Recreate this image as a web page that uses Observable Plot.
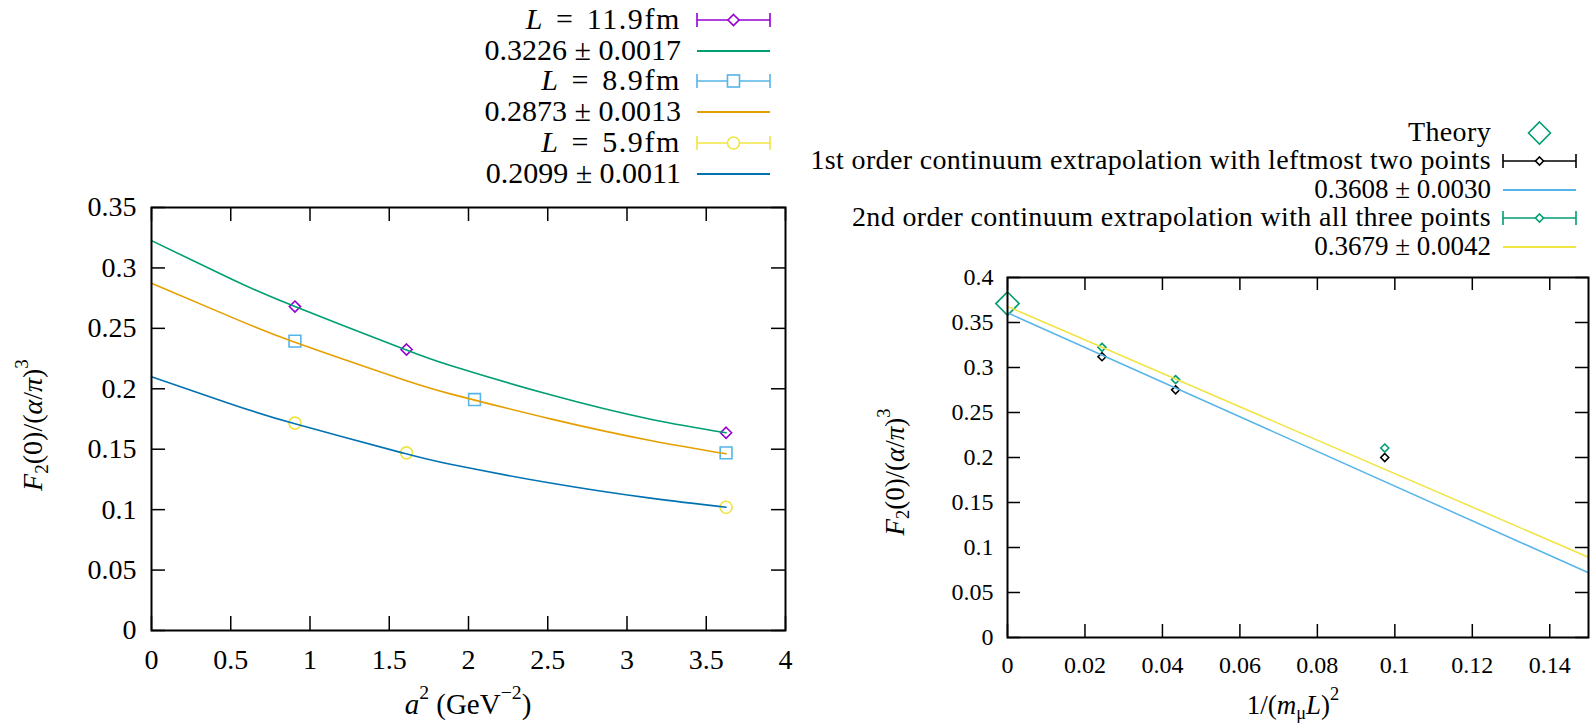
<!DOCTYPE html>
<html>
<head>
<meta charset="utf-8">
<script src="https://cdn.jsdelivr.net/npm/d3@7"></script>
<script src="https://cdn.jsdelivr.net/npm/@observablehq/plot@0.6"></script>
<style>
  html, body { margin: 0; padding: 0; background: #fff; }
  #wrap { position: relative; width: 1596px; height: 726px; overflow: hidden; font-family: "Liberation Serif", serif; color: #000; }
  #wrap svg { position: absolute; top: 0; }
  #wrap svg text { font-family: "Liberation Serif", serif; }
  .lab { position: absolute; white-space: nowrap; line-height: 1; font-family: "Liberation Serif", serif; }
  sup { font-size: 68%; vertical-align: 0.75em; line-height: 0; }
  sub { font-size: 68%; vertical-align: -0.3em; line-height: 0; }
</style>
</head>
<body>
<div id="wrap"></div>
<script>
// ---------- Left panel data ----------
const a2_L119 = [0.905, 1.609, 3.625];
const F2_L119 = [0.2680, 0.2325, 0.1636];
const a2_L89 = [0.905, 2.038, 3.625];
const F2_L89 = [0.2394, 0.1911, 0.1470];
const a2_L59 = [0.905, 1.609, 3.625];
const F2_L59 = [0.1716, 0.1470, 0.1020];
// fitted curves
const fitA2 = [0, 0.5, 0.905, 1.571, 1.886, 2.517, 3.148, 3.625];
const fitL119 = [0.3226, 0.2910, 0.2680, 0.2340, 0.2193, 0.1950, 0.1748, 0.1636];
const fitL89 = [0.2873, 0.2595, 0.2385, 0.2083, 0.1958, 0.1751, 0.1572, 0.1462];
const fitL59 = [0.2099, 0.1875, 0.1710, 0.1474, 0.1375, 0.1220, 0.1095, 0.1020];
const leftXTicks = [0, 0.5, 1, 1.5, 2, 2.5, 3, 3.5, 4];
const leftYTicks = [0, 0.05, 0.1, 0.15, 0.2, 0.25, 0.3, 0.35];
const leftLegend = ["L = 11.9fm", "0.3226 ± 0.0017", "L = 8.9fm", "0.2873 ± 0.0013", "L = 5.9fm", "0.2099 ± 0.0011"];

// ---------- Right panel data ----------
const xTheory = [0];
const yTheory = [0.371];
const xExtrap = [0.0244, 0.0434, 0.0974];
const y1st = [0.3120, 0.2752, 0.2000];
const y2nd = [0.3224, 0.2866, 0.2105];
const lineX = [0, 0.15];
const line1st = [0.3608, 0.0719];
const line2nd = [0.3679, 0.0892];
const rightXTicks = [0, 0.02, 0.04, 0.06, 0.08, 0.1, 0.12, 0.14];
const rightYTicks = [0, 0.05, 0.1, 0.15, 0.2, 0.25, 0.3, 0.35, 0.4];
const rightLegend = ["Theory", "1st order continuum extrapolation with leftmost two points", "0.3608 ± 0.0030", "2nd order continuum extrapolation with all three points", "0.3679 ± 0.0042"];

const C = {purple: "#9400d3", green: "#009e73", sky: "#56b4e9", orange: "#e69f00", yellow: "#f0e442", blue: "#0072b2"};
const FONT = '"Liberation Serif", serif';
const fmt = d => String(+d.toFixed(3));
const pts = (xs, ys) => xs.map((x, i) => ({x, y: ys[i]}));

function frameTicks(xt, yt, fw, fh, len, sw) {
  return [
    Plot.tickX(xt, {x: d => d, insetTop: fh - len, stroke: "black", strokeWidth: sw}),
    Plot.tickX(xt, {x: d => d, insetBottom: fh - len, stroke: "black", strokeWidth: sw}),
    Plot.tickY(yt, {y: d => d, insetRight: fw - len, stroke: "black", strokeWidth: sw}),
    Plot.tickY(yt, {y: d => d, insetLeft: fw - len, stroke: "black", strokeWidth: sw})
  ];
}

const wrap = document.getElementById("wrap");

// ---------- Left plot ----------
{
  const W = 798, H = 726, mL = 151, mR = 13, mT = 207, mB = 96;
  const fw = W - mL - mR, fh = H - mT - mB;
  const svg = Plot.plot({
    width: W, height: H, marginLeft: mL, marginRight: mR, marginTop: mT, marginBottom: mB,
    style: {fontFamily: FONT, fontSize: "28px", background: "transparent", overflow: "visible", color: "black"},
    x: {domain: [0, 4]},
    y: {domain: [0, 0.35]},
    marks: [
      ...frameTicks(leftXTicks, leftYTicks, fw, fh, 14, 1.5),
      Plot.axisX({ticks: leftXTicks, tickSize: 0, tickPadding: 19, tickFormat: fmt, label: null, fontSize: 28}),
      Plot.axisY({ticks: leftYTicks, tickSize: 0, tickPadding: 15, tickFormat: fmt, label: null, fontSize: 28}),
      Plot.dot(pts(a2_L119, F2_L119), {x: "x", y: "y", symbol: "diamond2", r: 5, stroke: C.purple, strokeWidth: 1.6}),
      Plot.line(pts(fitA2, fitL119), {x: "x", y: "y", stroke: C.green, strokeWidth: 1.6, curve: "natural"}),
      Plot.dot(pts(a2_L89, F2_L89), {x: "x", y: "y", symbol: "square2", r: 7.5, stroke: C.sky, strokeWidth: 1.6}),
      Plot.line(pts(fitA2, fitL89), {x: "x", y: "y", stroke: C.orange, strokeWidth: 1.6, curve: "natural"}),
      Plot.dot(pts(a2_L59, F2_L59), {x: "x", y: "y", symbol: "circle", r: 6, stroke: C.yellow, strokeWidth: 1.6}),
      Plot.line(pts(fitA2, fitL59), {x: "x", y: "y", stroke: C.blue, strokeWidth: 1.6, curve: "natural"}),
      Plot.frame({stroke: "black", strokeWidth: 2})
    ]
  });
  svg.style.left = "0px";
  wrap.appendChild(svg);
}

// ---------- Right plot ----------
{
  const W = 798, H = 726, mL = 209, mR = 8, mT = 277, mB = 89;
  const fw = W - mL - mR, fh = H - mT - mB;
  const svg = Plot.plot({
    width: W, height: H, marginLeft: mL, marginRight: mR, marginTop: mT, marginBottom: mB,
    style: {fontFamily: FONT, fontSize: "24px", background: "transparent", overflow: "visible", color: "black"},
    x: {domain: [0, 0.15]},
    y: {domain: [0, 0.4]},
    marks: [
      ...frameTicks(rightXTicks, rightYTicks, fw, fh, 13, 1.5),
      Plot.axisX({ticks: rightXTicks, tickSize: 0, tickPadding: 18, tickFormat: fmt, label: null, fontSize: 24}),
      Plot.axisY({ticks: rightYTicks, tickSize: 0, tickPadding: 14, tickFormat: fmt, label: null, fontSize: 24}),
      Plot.dot(pts(xTheory, yTheory), {x: "x", y: "y", symbol: "diamond2", r: 10.5, stroke: C.green, strokeWidth: 1.6}),
      Plot.dot(pts(xExtrap, y1st), {x: "x", y: "y", symbol: "diamond2", r: 3.6, stroke: "black", strokeWidth: 1.6}),
      Plot.line(pts(lineX, line1st), {x: "x", y: "y", stroke: C.sky, strokeWidth: 1.5}),
      Plot.dot(pts(xExtrap, y2nd), {x: "x", y: "y", symbol: "diamond2", r: 3.6, stroke: C.green, strokeWidth: 1.6}),
      Plot.line(pts(lineX, line2nd), {x: "x", y: "y", stroke: C.yellow, strokeWidth: 1.5}),
      Plot.frame({stroke: "black", strokeWidth: 2})
    ]
  });
  svg.style.left = "798px";
  wrap.appendChild(svg);
}

// ---------- Axis titles (HTML text) ----------
function label(html, cx, cy, size, rotate) {
  const d = document.createElement("div");
  d.className = "lab";
  d.style.fontSize = size + "px";
  d.style.left = cx + "px";
  d.style.top = cy + "px";
  d.style.transform = "translate(-50%,-50%)" + (rotate ? " rotate(-90deg)" : "");
  d.innerHTML = html;
  wrap.appendChild(d);
}
const yLab = "<i>F</i><sub>2</sub>(0)/(<i>α</i>/<i>π</i>)<sup>3</sup>";
label(yLab, 33, 425, 28, true);
label("<i>a</i><sup>2</sup> (GeV<sup>−2</sup>)", 468, 704, 29, false);
label(yLab, 895, 472, 27, true);
label("1/(<i>m</i><sub>μ</sub><i>L</i>)<sup>2</sup>", 1293, 705, 27, false);

// ---------- Legends ----------
function mathText(s) {
  return s.replace(/^L /, "<i>L</i> ");
}
function legendRow(text, textRight, cy, size, keyX, keyW, key, extra) {
  const d = document.createElement("div");
  d.className = "lab";
  d.style.fontSize = size + "px";
  d.style.right = (1596 - textRight) + "px";
  d.style.top = cy + "px";
  d.style.transform = "translateY(-52%)";
  if (extra) Object.assign(d.style, extra);
  d.innerHTML = mathText(text);
  wrap.appendChild(d);
  const ns = "http://www.w3.org/2000/svg";
  const s = document.createElementNS(ns, "svg");
  s.setAttribute("width", keyW + 4);
  s.setAttribute("height", 30);
  s.style.left = (keyX - 2) + "px";
  s.style.top = (cy - 15) + "px";
  s.style.overflow = "visible";
  s.innerHTML = key(keyW);
  wrap.appendChild(s);
}
function errKey(color, marker) {
  return w => `<g transform="translate(2,15)" stroke="${color}" stroke-width="1.6" fill="none">
    <line x1="0" x2="${w}" y1="0" y2="0"/><line x1="0" x2="0" y1="-7" y2="7"/><line x1="${w}" x2="${w}" y1="-7" y2="7"/>
    ${marker(w / 2)}</g>`;
}
function lineKey(color) {
  return w => `<line x1="2" x2="${w + 2}" y1="15" y2="15" stroke="${color}" stroke-width="1.8"/>`;
}
const diamond = r => c => `<path d="M${c},${-r}L${c + r},0L${c},${r}L${c - r},0Z" fill="white"/>`;
const square = h => c => `<rect x="${c - h}" y="${-h}" width="${2 * h}" height="${2 * h}" fill="white"/>`;
const circle = r => c => `<circle cx="${c}" cy="0" r="${r}" fill="white"/>`;

const leftRows = [20, 50.5, 81, 111.5, 142.5, 173.5];
const leftKeys = [errKey(C.purple, diamond(5.5)), lineKey(C.green), errKey(C.sky, square(6)), lineKey(C.orange), errKey(C.yellow, circle(6)), lineKey(C.blue)];
leftLegend.forEach((t, i) => legendRow(t, 681, leftRows[i], 30, 697, 73, leftKeys[i],
  t.startsWith("L") ? {wordSpacing: "3px", letterSpacing: "1.6px"} : null));

const rightRows = [132.5, 161, 189.5, 218, 246.5];
const theoryKey = w => `<path transform="translate(${w / 2 + 2},15)" d="M0,-11L11,0L0,11L-11,0Z" fill="none" stroke="${C.green}" stroke-width="1.6"/>`;
const rightKeys = [theoryKey, errKey("black", diamond(4)), lineKey(C.sky), errKey(C.green, diamond(4)), lineKey(C.yellow)];
rightLegend.forEach((t, i) => {
  const isNum = /^\d\.\d/.test(t);
  legendRow(t, 1491, rightRows[i], isNum ? 27 : 28, 1503, 73, rightKeys[i], isNum ? null : {letterSpacing: "0.35px"});
});
</script>
</body>
</html>
